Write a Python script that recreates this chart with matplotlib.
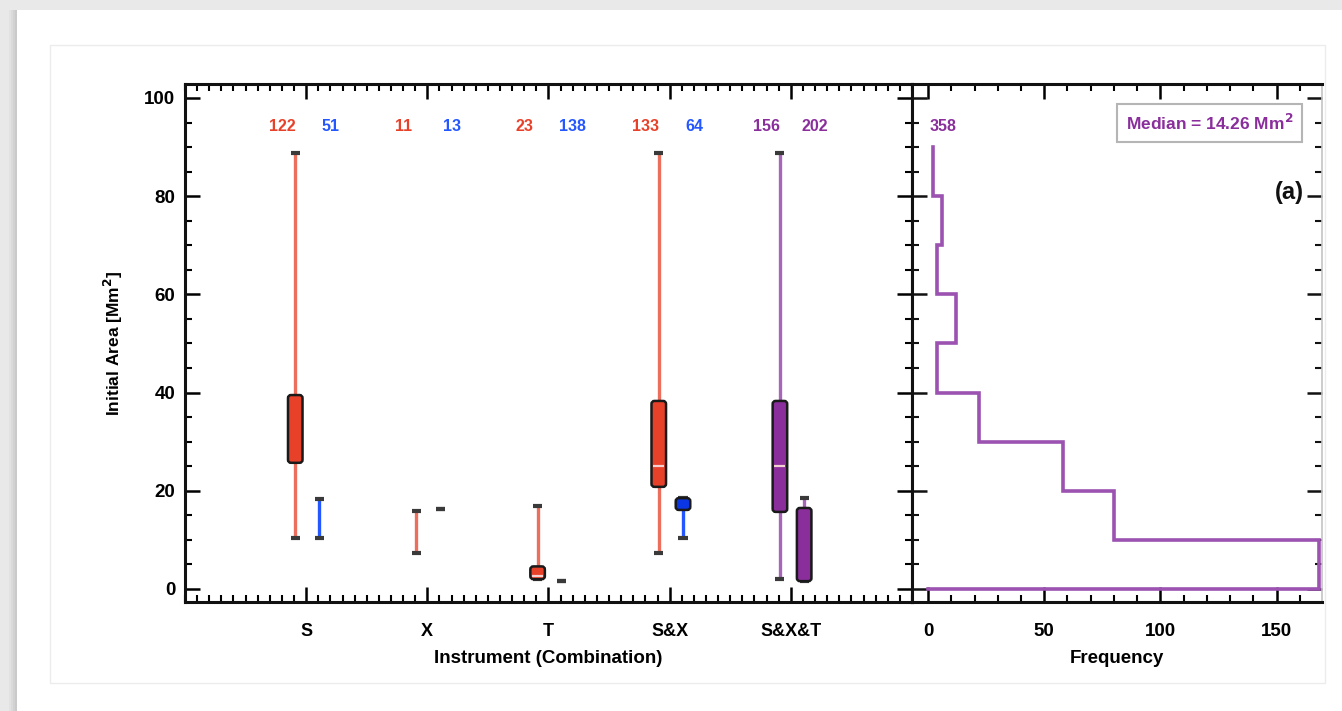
import numpy as np
import matplotlib.pyplot as plt
from matplotlib.patches import Rectangle, FancyBboxPatch
from matplotlib.ticker import MultipleLocator

plt.rcParams['font.family'] = ['Liberation Sans', 'DejaVu Sans']
plt.rcParams['font.weight'] = 'bold'

# ---- data ----
categories = ['S', 'X', 'T', 'S&X', 'S&X&T']
counts_left = [122, 11, 23, 133, 156]
counts_right = [51, 13, 138, 64, 202]
colors_left = ['#e8412a', '#e8412a', '#e8412a', '#e8412a', '#8a2e9c']
colors_right = ['#2457ff', '#2457ff', '#2457ff', '#2457ff', '#8a2e9c']

# whisker low, q1, median, q3, whisker high (nan = not drawn)
left_lo = [10.4, 7.3, 2.0, 7.3, 2.0]
left_q1 = [25.7, np.nan, 2.0, 20.8, 15.7]
left_med = [np.nan, np.nan, 2.6, 25.0, 25.0]
left_q3 = [39.5, np.nan, 4.6, 38.3, 38.3]
left_hi = [88.8, 15.9, 16.9, 88.8, 88.8]

right_lo = [10.4, 16.3, 1.6, 10.4, 1.6]
right_q1 = [np.nan, np.nan, np.nan, 16.1, 1.6]
right_med = [np.nan, np.nan, np.nan, np.nan, np.nan]
right_q3 = [np.nan, np.nan, np.nan, 18.5, 16.5]
right_hi = [18.3, 16.3, 1.6, 18.5, 18.5]

# histogram of initial area (all events)
bin_edges = [0, 10, 20, 30, 40, 50, 60, 70, 80, 90]
frequency = [168, 80, 58, 22, 4, 12, 4, 6, 2]
n_total = 358
median_area = 14.26

fig = plt.figure(figsize=(13.42, 7.11), dpi=100)
fig.patch.set_facecolor('#e9e9e9')
# white card + faint shadow + inner frame
for k, g in enumerate(['#e2e2e2', '#dadada', '#d2d2d2', '#cacaca']):
    fig.patches.append(Rectangle(((9 + 2 * k) / 1342, 0), 2 / 1342, 701 / 711, transform=fig.transFigure,
                                 facecolor=g, edgecolor='none', zorder=-3))
fig.patches.append(Rectangle((17 / 1342, 0), 1, 701 / 711, transform=fig.transFigure,
                             facecolor='white', edgecolor='none', zorder=-2))
fig.patches.append(Rectangle((50 / 1342, 28 / 711), 1275 / 1342, 638 / 711, transform=fig.transFigure,
                             facecolor='none', edgecolor='#ececec', lw=1, zorder=-1))

ax = fig.add_axes([185 / 1342, 1 - 602 / 711, 727 / 1342, 518 / 711])
ax2 = fig.add_axes([912 / 1342, 1 - 602 / 711, 410 / 1342, 518 / 711])

ylim = (-2.65, 102.85)
x = np.arange(1, len(categories) + 1)
off_l, off_r = -0.09, 0.11
bw = 0.12
capw = 0.075
# pixels per data unit, for round box corners
px_x = 727 / 6.0
px_y = 518 / (ylim[1] - ylim[0])


def light(c):
    if c == '#8a2e9c':
        return '#a866b8'
    if c == '#e8412a':
        return '#ec6e5c'
    return c


def draw_series(xs, lo, q1, med, q3, hi, cols, box_fc=None):
    for i in range(len(xs)):
        c = cols[i]
        fc = box_fc[i] if box_fc else c
        if hi[i] > lo[i]:
            ax.vlines(xs[i], lo[i], hi[i], color=light(c), lw=2.4, zorder=2)
        ax.hlines([lo[i], hi[i]], xs[i] - capw / 2, xs[i] + capw / 2, color='#3a3a3a', lw=3, zorder=3)
        if not np.isnan(q1[i]):
            r = 0.025
            box = FancyBboxPatch((xs[i] - bw / 2, q1[i]), bw, q3[i] - q1[i],
                                 boxstyle='round,pad=0,rounding_size=%g' % r,
                                 mutation_aspect=px_x / px_y,
                                 facecolor=fc, edgecolor='#1a1a1a', linewidth=1.8, zorder=4)
            ax.add_patch(box)
        if not np.isnan(med[i]):
            ax.hlines(med[i], xs[i] - bw / 2 + 0.015, xs[i] + bw / 2 - 0.015, color='#f4d0d0', lw=1.6, zorder=5)


draw_series(x + off_l, left_lo, left_q1, left_med, left_q3, left_hi, colors_left)
right_fc = ['#2457ff', '#2457ff', '#2457ff', '#0b36e6', '#8a2e9c']
draw_series(x + off_r, right_lo, right_q1, right_med, right_q3, right_hi, colors_right, right_fc)

for i in range(len(categories)):
    ax.text(x[i] - 0.2, 94.1, str(counts_left[i]), color=colors_left[i], ha='center', va='center',
            fontsize=11.5, fontweight='bold')
    ax.text(x[i] + 0.2, 94.1, str(counts_right[i]), color=colors_right[i], ha='center', va='center',
            fontsize=11.5, fontweight='bold')

ax.set_xlim(0, 6)
ax.set_ylim(*ylim)
ax.set_xticks(x)
ax.set_xticklabels(categories, fontsize=13, fontweight='bold')
ax.xaxis.set_minor_locator(MultipleLocator(0.1))
ax.yaxis.set_major_locator(MultipleLocator(20))
ax.yaxis.set_minor_locator(MultipleLocator(5))
ax.set_xlabel('Instrument (Combination)', fontsize=13.5, fontweight='bold', labelpad=7)
ax.set_ylabel('Initial Area [Mm$^\\mathbf{2}$]', fontsize=12.5, fontweight='bold', labelpad=14)
for t in ax.get_yticklabels():
    t.set_fontsize(13.5)
    t.set_fontweight('bold')

# ---- histogram panel ----
steps_x = [0]
steps_y = [0]
for j in range(len(frequency)):
    steps_x += [frequency[j], frequency[j]]
    steps_y += [bin_edges[j], bin_edges[j + 1]]
ax2.plot(steps_x, steps_y, color='#9b52b0', lw=2.6, solid_joinstyle='miter', zorder=3)
ax2.set_xlim(-6.9, 169.5)
ax2.set_ylim(*ylim)
ax2.set_yticks(np.arange(0, 101, 20))
ax2.set_yticklabels([])
ax2.yaxis.set_minor_locator(MultipleLocator(5))
ax2.xaxis.set_major_locator(MultipleLocator(50))
ax2.xaxis.set_minor_locator(MultipleLocator(10))
ax2.set_xlabel('Frequency', fontsize=13.5, fontweight='bold', labelpad=7)
for t in ax2.get_xticklabels():
    t.set_fontsize(13.5)
    t.set_fontweight('bold')
ax2.text(6.5, 94.1, str(n_total), color='#8a2e9c', ha='center', va='center', fontsize=11.5, fontweight='bold')
ax2.text(0.93, 0.925, 'Median = %.2f Mm$^\\mathbf{2}$' % median_area, transform=ax2.transAxes,
         color='#8a2e9c', ha='right', va='center', fontsize=12.5, fontweight='bold',
         bbox=dict(boxstyle='square,pad=0.5', fc='white', ec='#b5b5b5', lw=1.5))
ax2.text(0.955, 0.79, '(a)', transform=ax2.transAxes, ha='right', va='center', fontsize=17,
         fontweight='bold', color='#111111')

for a in (ax, ax2):
    for s in a.spines.values():
        s.set_linewidth(2.2)
        s.set_color('#111111')
    a.tick_params(which='major', direction='in', length=11, width=1.8, top=True, right=True, pad=7)
    a.tick_params(which='minor', direction='in', length=5, width=1.5, top=True, right=True)
    a.tick_params(axis='x', which='major', pad=15)
ax2.spines['right'].set_color('#c4c4c4')
ax2.spines['right'].set_linewidth(1.2)
ax2.tick_params(axis='y', which='both', right=True, colors='#111111')

fig.savefig('out.png', dpi=100)
